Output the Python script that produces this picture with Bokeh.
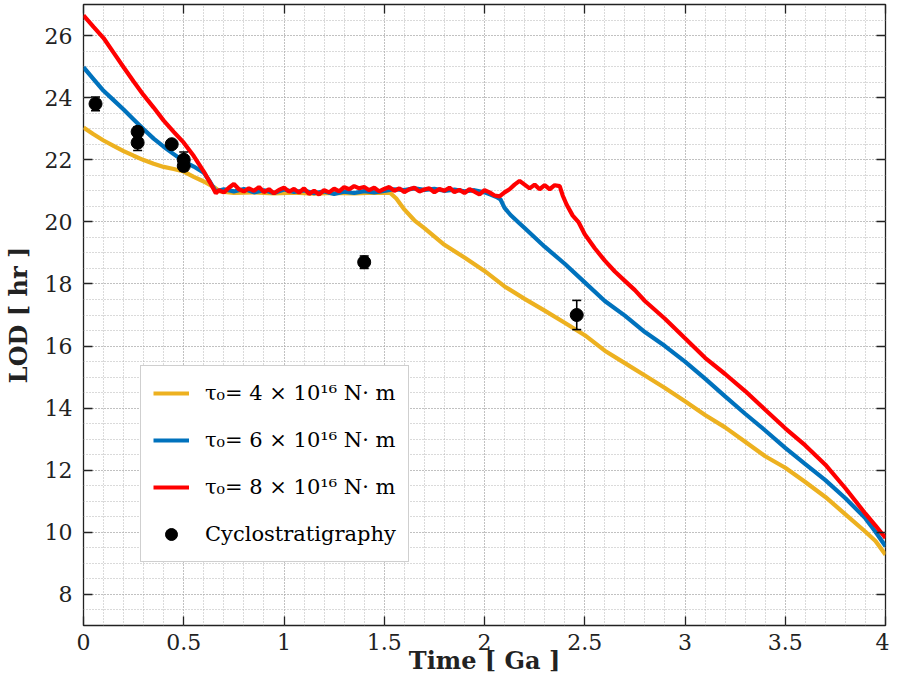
import numpy as np
from bokeh.plotting import figure
from bokeh.models import (FixedTicker, LinearAxis, Legend, LegendItem, Range1d)
from bokeh.embed import file_html
from bokeh.resources import INLINE

FONT = "DejaVu Serif"
DARK = "#222222"

# ---------------- data ----------------
x_ticks = [0, 0.5, 1, 1.5, 2, 2.5, 3, 3.5, 4]
x_tick_labels = ["0", "0.5", "1", "1.5", "2", "2.5", "3", "3.5", "4"]
y_ticks = [8, 10, 12, 14, 16, 18, 20, 22, 24, 26]
y_tick_labels = ["8", "10", "12", "14", "16", "18", "20", "22", "24", "26"]

series_labels = ["τ₀= 4 × 10¹⁶ N· m", "τ₀= 6 × 10¹⁶ N· m", "τ₀= 8 × 10¹⁶ N· m"]
series_colors = ["#EDB120", "#0072BD", "#FF0000"]

yellow_t = [0, 0.05, 0.1, 0.15, 0.2, 0.25, 0.3, 0.35, 0.4, 0.45, 0.5, 0.55, 0.6, 0.65, 0.68,
            0.75, 0.85, 0.95, 1.05, 1.15, 1.25, 1.35, 1.45, 1.53, 1.56, 1.6, 1.65, 1.7,
            1.8, 1.9, 2.0, 2.1, 2.2, 2.3, 2.4, 2.5, 2.6, 2.7, 2.8, 2.9, 3.0, 3.1, 3.2, 3.3,
            3.4, 3.5, 3.6, 3.7, 3.8, 3.9, 3.95, 4.0]
yellow_lod = [23.04, 22.82, 22.62, 22.45, 22.28, 22.13, 21.99, 21.87, 21.77, 21.70, 21.62, 21.45,
              21.30, 21.12, 20.98, 20.93, 20.95, 20.92, 20.94, 20.91, 20.93, 20.92, 20.94, 20.93,
              20.75, 20.40, 20.05, 19.80, 19.26, 18.85, 18.42, 17.92, 17.52, 17.14, 16.75, 16.35,
              15.85, 15.45, 15.05, 14.65, 14.22, 13.78, 13.38, 12.92, 12.45, 12.08, 11.62, 11.14,
              10.58, 10.02, 9.72, 9.28]

blue_t = [0, 0.05, 0.1, 0.15, 0.2, 0.25, 0.3, 0.35, 0.4, 0.45, 0.5, 0.55, 0.6, 0.63, 0.66,
          0.7, 0.75, 0.8, 0.85, 0.9, 0.95, 1.0, 1.05, 1.1, 1.15, 1.2, 1.25, 1.3, 1.35, 1.4,
          1.45, 1.5, 1.55, 1.6, 1.65, 1.7, 1.75, 1.8, 1.85, 1.9, 1.95, 2.0, 2.03, 2.06, 2.08,
          2.1, 2.13, 2.17, 2.2, 2.3, 2.4, 2.5, 2.6, 2.7, 2.8, 2.9, 3.0, 3.1, 3.2, 3.3, 3.4,
          3.5, 3.6, 3.7, 3.8, 3.9, 3.95, 4.0]
blue_lod = [24.98, 24.6, 24.22, 23.92, 23.62, 23.3, 22.98, 22.68, 22.42, 22.18, 21.95, 21.78,
            21.58, 21.3, 20.98,
            21.05, 20.98, 21.06, 20.95, 21.02, 20.93, 21.04, 20.96, 21.01, 20.92, 20.98, 20.90,
            20.97, 20.93, 20.99, 20.95, 21.00, 21.05, 21.02, 21.08, 21.03, 21.06, 21.00, 21.04,
            20.98, 21.02, 20.95, 20.88, 20.80, 20.72,
            20.45, 20.22, 19.98, 19.8, 19.2, 18.65, 18.05, 17.45, 16.98, 16.45, 16.0, 15.5,
            14.95, 14.38, 13.82, 13.28, 12.72, 12.2, 11.68, 11.1, 10.45, 10.02, 9.55]

red_t = [0, 0.05, 0.1, 0.15, 0.2, 0.25, 0.3, 0.35, 0.4, 0.45, 0.5, 0.55, 0.6, 0.63, 0.66,
         0.675, 0.7, 0.725, 0.75, 0.775, 0.8, 0.825, 0.85, 0.875, 0.9, 0.925, 0.95, 0.975, 1.0,
         1.025, 1.05, 1.075, 1.1, 1.125, 1.15, 1.175, 1.2, 1.225, 1.25, 1.275, 1.3, 1.325, 1.35,
         1.375, 1.4, 1.425, 1.45, 1.475, 1.5, 1.525, 1.55, 1.575, 1.6, 1.625, 1.65, 1.675, 1.7,
         1.725, 1.75, 1.775, 1.8, 1.825, 1.85, 1.875, 1.9, 1.925, 1.95, 1.975, 2.0, 2.025, 2.05,
         2.075, 2.1, 2.125, 2.15, 2.175, 2.2, 2.225, 2.25, 2.275, 2.3, 2.325, 2.35, 2.375,
         2.39, 2.41, 2.44, 2.47, 2.5, 2.55, 2.6, 2.65, 2.7, 2.75, 2.8, 2.9, 3.0, 3.1, 3.2, 3.3,
         3.4, 3.5, 3.6, 3.7, 3.8, 3.9, 3.95, 4.0]
red_lod = [26.65, 26.28, 25.92, 25.45, 24.98, 24.52, 24.08, 23.68, 23.26, 22.9, 22.55, 22.12,
           21.62, 21.28, 20.92,
           21.02, 20.95, 21.10, 21.22, 21.05, 20.98, 21.08, 21.00, 21.12, 20.96, 21.05, 20.92,
           21.03, 21.10, 20.97, 21.06, 20.94, 21.08, 20.90, 21.00, 20.88, 21.02, 20.95, 21.07,
           20.98, 21.12, 21.05, 21.15, 21.08, 21.12, 21.02, 21.10, 20.98, 21.06, 21.12, 21.00,
           21.08, 20.96, 21.05, 21.10, 20.98, 21.04, 21.08, 20.95, 21.06, 21.00, 21.10, 20.96,
           21.03, 20.93, 21.05, 20.97, 20.88, 21.02, 20.95, 20.85,
           20.82, 20.95, 21.05, 21.2, 21.32, 21.2, 21.08, 21.2, 21.05, 21.18, 21.05, 21.18, 21.15,
           20.85, 20.55, 20.2, 19.98, 19.6, 19.15, 18.75, 18.4, 18.1, 17.8, 17.45, 16.88, 16.25,
           15.62, 15.1, 14.55, 13.95, 13.35, 12.8, 12.18, 11.42, 10.6, 10.22, 9.82]

cyc_t = [0.06, 0.27, 0.27, 0.44, 0.50, 0.50, 1.40, 2.46]
cyc_lod = [23.8, 22.9, 22.55, 22.5, 22.0, 21.8, 18.7, 17.0]
cyc_err = [0.22, 0.15, 0.25, 0.1, 0.25, 0.15, 0.2, 0.47]
cyc_label = "Cyclostratigraphy"

# ---------------- figure ----------------
p = figure(width=889, height=677, output_backend="svg", toolbar_location=None,
           x_range=Range1d(0, 4), y_range=Range1d(7, 27),
           min_border_left=74, min_border_right=0, min_border_top=0, min_border_bottom=0,
           background_fill_color="white", border_fill_color="white")
p.outline_line_color = DARK
p.outline_line_width = 1.3

x_minor = [round(v, 2) for v in np.arange(0, 4.001, 0.1)]
y_minor = [round(v, 2) for v in np.arange(7, 27.001, 0.5)]
xt = FixedTicker(ticks=x_ticks, minor_ticks=x_minor)
yt = FixedTicker(ticks=y_ticks, minor_ticks=y_minor)

top_ax = LinearAxis()
right_ax = LinearAxis()
p.add_layout(top_ax, "above")
p.add_layout(right_ax, "right")

for ax in [p.below[0], top_ax]:
    ax.ticker = xt
for ax in [p.left[0], right_ax]:
    ax.ticker = yt

for ax in [p.below[0], p.left[0], top_ax, right_ax]:
    ax.axis_line_color = None
    ax.major_tick_in = 9
    ax.major_tick_out = 0
    ax.major_tick_line_color = DARK
    ax.major_tick_line_width = 1.3
    ax.minor_tick_line_color = None
    ax.major_label_text_font = FONT
    ax.major_label_text_font_size = "22px"
    ax.major_label_text_color = DARK
    ax.axis_label_text_font = FONT
    ax.axis_label_text_font_style = "bold"
    ax.axis_label_text_font_size = "24px"
    ax.axis_label_text_color = DARK

for ax in [top_ax, right_ax]:
    ax.major_label_text_font_size = "0px"
    ax.major_label_standoff = 0
    ax.axis_label_standoff = 0
    ax.major_label_text_color = None

p.below[0].major_label_overrides = dict(zip(x_ticks, x_tick_labels))
p.left[0].major_label_overrides = dict(zip(y_ticks, y_tick_labels))
p.below[0].major_label_standoff = 4
p.left[0].major_label_standoff = 7
p.below[0].axis_label = "Time [ Ga ]"
p.left[0].axis_label = "LOD [ hr ]"
p.below[0].axis_label_standoff = -7
p.left[0].axis_label_standoff = 9

for g, t in [(p.xgrid[0], xt), (p.ygrid[0], yt)]:
    g.ticker = t
    g.grid_line_color = "#a8a8a8"
    g.grid_line_dash = "1 2"
    g.grid_line_width = 1
    g.minor_grid_line_color = "#b4b4b4"
    g.minor_grid_line_dash = "1 2"
    g.minor_grid_line_width = 1

# ---------------- glyphs ----------------
r_y = p.line(yellow_t, yellow_lod, line_color=series_colors[0], line_width=4.2)
r_b = p.line(blue_t, blue_lod, line_color=series_colors[1], line_width=4.2)
r_r = p.line(red_t, red_lod, line_color=series_colors[2], line_width=4.2)

lo = [v - e for v, e in zip(cyc_lod, cyc_err)]
hi = [v + e for v, e in zip(cyc_lod, cyc_err)]
p.segment(x0=cyc_t, y0=lo, x1=cyc_t, y1=hi, line_color="black", line_width=1.6)
p.scatter(cyc_t + cyc_t, lo + hi, marker="dash", size=9, line_color="black", line_width=1.6)
r_pts = p.scatter(cyc_t, cyc_lod, marker="circle", size=13, fill_color="black", line_color="black")

legend = Legend(items=[LegendItem(label=series_labels[0], renderers=[r_y]),
                       LegendItem(label=series_labels[1], renderers=[r_b]),
                       LegendItem(label=series_labels[2], renderers=[r_r]),
                       LegendItem(label=cyc_label, renderers=[r_pts])],
                location=(57, 63))
legend.label_text_font = FONT
legend.label_text_font_size = "21px"
legend.label_text_color = "black"
legend.glyph_width = 36
legend.glyph_height = 30
legend.label_height = 30
legend.label_standoff = 16
legend.spacing = 17
legend.padding = 12
legend.margin = 0
legend.border_line_color = "#a0a0a0"
legend.border_line_width = 1.5
legend.background_fill_color = "white"
legend.background_fill_alpha = 1
p.add_layout(legend)

open("out.html", "w").write(file_html(p, INLINE))
